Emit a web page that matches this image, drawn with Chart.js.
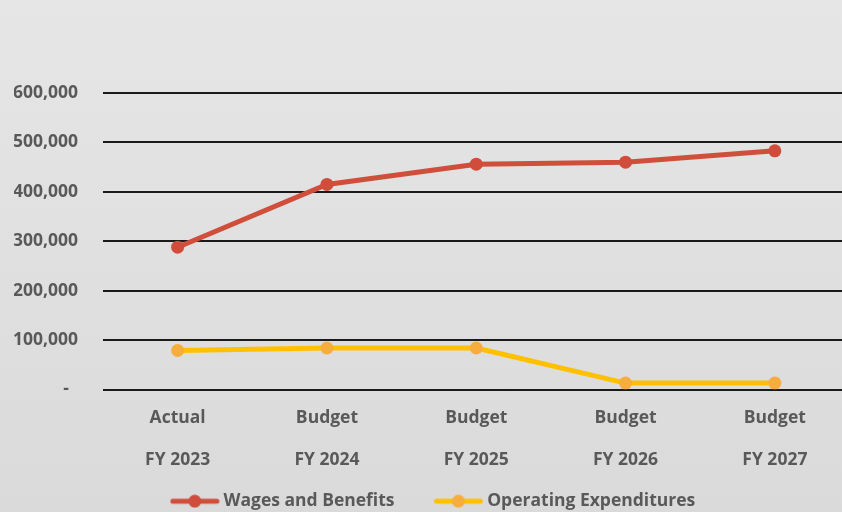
<!DOCTYPE html>
<html>
<head>
<meta charset="utf-8">
<script src="https://cdn.jsdelivr.net/npm/chart.js@4"></script>
<style>
  html, body { margin: 0; padding: 0; overflow: hidden; }
  body { width: 842px; height: 512px; background: linear-gradient(#e6e6e6, #dadada); }
  #wrap { width: 856px; height: 512px; }
</style>
</head>
<body>
<div id="wrap"><canvas id="chart" width="856" height="512"></canvas></div>
<script>
(function () {
    "use strict";

    // categories and series values
    const periods = [["Actual", "FY 2023"], ["Budget", "FY 2024"], ["Budget", "FY 2025"], ["Budget", "FY 2026"], ["Budget", "FY 2027"]];
    const wages = [288000, 415000, 456000, 460000, 483000];
    const operating = [79000, 84000, 84000, 13000, 13000];
    const yTicks = [0, 100000, 200000, 300000, 400000, 500000, 600000];

    const textColor = "#595959";
    const fontFamily = "'Open Sans', sans-serif";
    const fontSize = 17.5;

    // line + dot marker used as the legend symbol
    function legendMarker(lineColor, dotColor) {
        const c = document.createElement("canvas");
        c.width = 50;
        c.height = 14;
        const g = c.getContext("2d");
        g.strokeStyle = lineColor;
        g.lineWidth = 5;
        g.lineCap = "round";
        g.beginPath();
        g.moveTo(3, 7);
        g.lineTo(47, 7);
        g.stroke();
        g.fillStyle = dotColor;
        g.beginPath();
        g.arc(25, 7, 6.5, 0, Math.PI * 2);
        g.fill();
        return c;
    }

    new Chart(document.getElementById("chart").getContext("2d"), {
        type: "line",
        data: {
            labels: periods,
            datasets: [
                {
                    label: "Wages and Benefits",
                    data: wages,
                    borderColor: "#d04f3b",
                    backgroundColor: "#d04f3b",
                    pointBackgroundColor: "#cf4d3a",
                    pointBorderWidth: 0,
                    borderWidth: 5,
                    pointRadius: 6.5,
                    tension: 0,
                },
                {
                    label: "Operating Expenditures",
                    data: operating,
                    borderColor: "#ffc000",
                    backgroundColor: "#ffc000",
                    pointBackgroundColor: "#f6ad3d",
                    pointBorderWidth: 0,
                    borderWidth: 5,
                    pointRadius: 6.5,
                    tension: 0,
                },
            ],
        },
        options: {
            responsive: false,
            animation: false,
            layout: { padding: { top: 93, left: 14, right: 0, bottom: -8 } },
            scales: {
                x: {
                    offset: true,
                    grid: { display: false, drawTicks: false },
                    border: { display: false },
                    ticks: {
                        padding: 8,
                        color: textColor,
                        maxRotation: 0,
                        font: { family: fontFamily, size: fontSize, weight: "bold", lineHeight: 42 / fontSize },
                    },
                    afterFit: scale => { scale.height = 100; },
                },
                y: {
                    min: 0,
                    max: 600000,
                    afterBuildTicks: scale => { scale.ticks = yTicks.map(v => ({ value: v })); },
                    grid: { color: "#1a1a1a", lineWidth: 2, drawTicks: false },
                    border: { display: false },
                    ticks: {
                        padding: 25,
                        color: textColor,
                        font: { family: fontFamily, size: fontSize, weight: "bold" },
                        callback: v => (v === 0 ? "-  " : v.toLocaleString("en-US")),
                    },
                    afterFit: scale => { scale.width = 89; },
                },
            },
            plugins: {
                tooltip: { enabled: false },
                legend: {
                    position: "bottom",
                    labels: {
                        color: textColor,
                        font: { family: fontFamily, size: fontSize, weight: "bold" },
                        usePointStyle: true,
                        pointStyleWidth: 40,
                        padding: 3,
                        // trailing spaces on the first entry widen the gap between the two items
                        generateLabels: chart => chart.data.datasets.map((ds, i) => ({
                            text: i === 0 ? ds.label + " ".repeat(9) : ds.label,
                            datasetIndex: i,
                            fontColor: textColor,
                            pointStyle: legendMarker(ds.borderColor, ds.pointBackgroundColor),
                            lineWidth: 0,
                            strokeStyle: "transparent",
                            fillStyle: "transparent",
                        })),
                    },
                },
            },
        },
    });
})();
</script>
</body>
</html>
